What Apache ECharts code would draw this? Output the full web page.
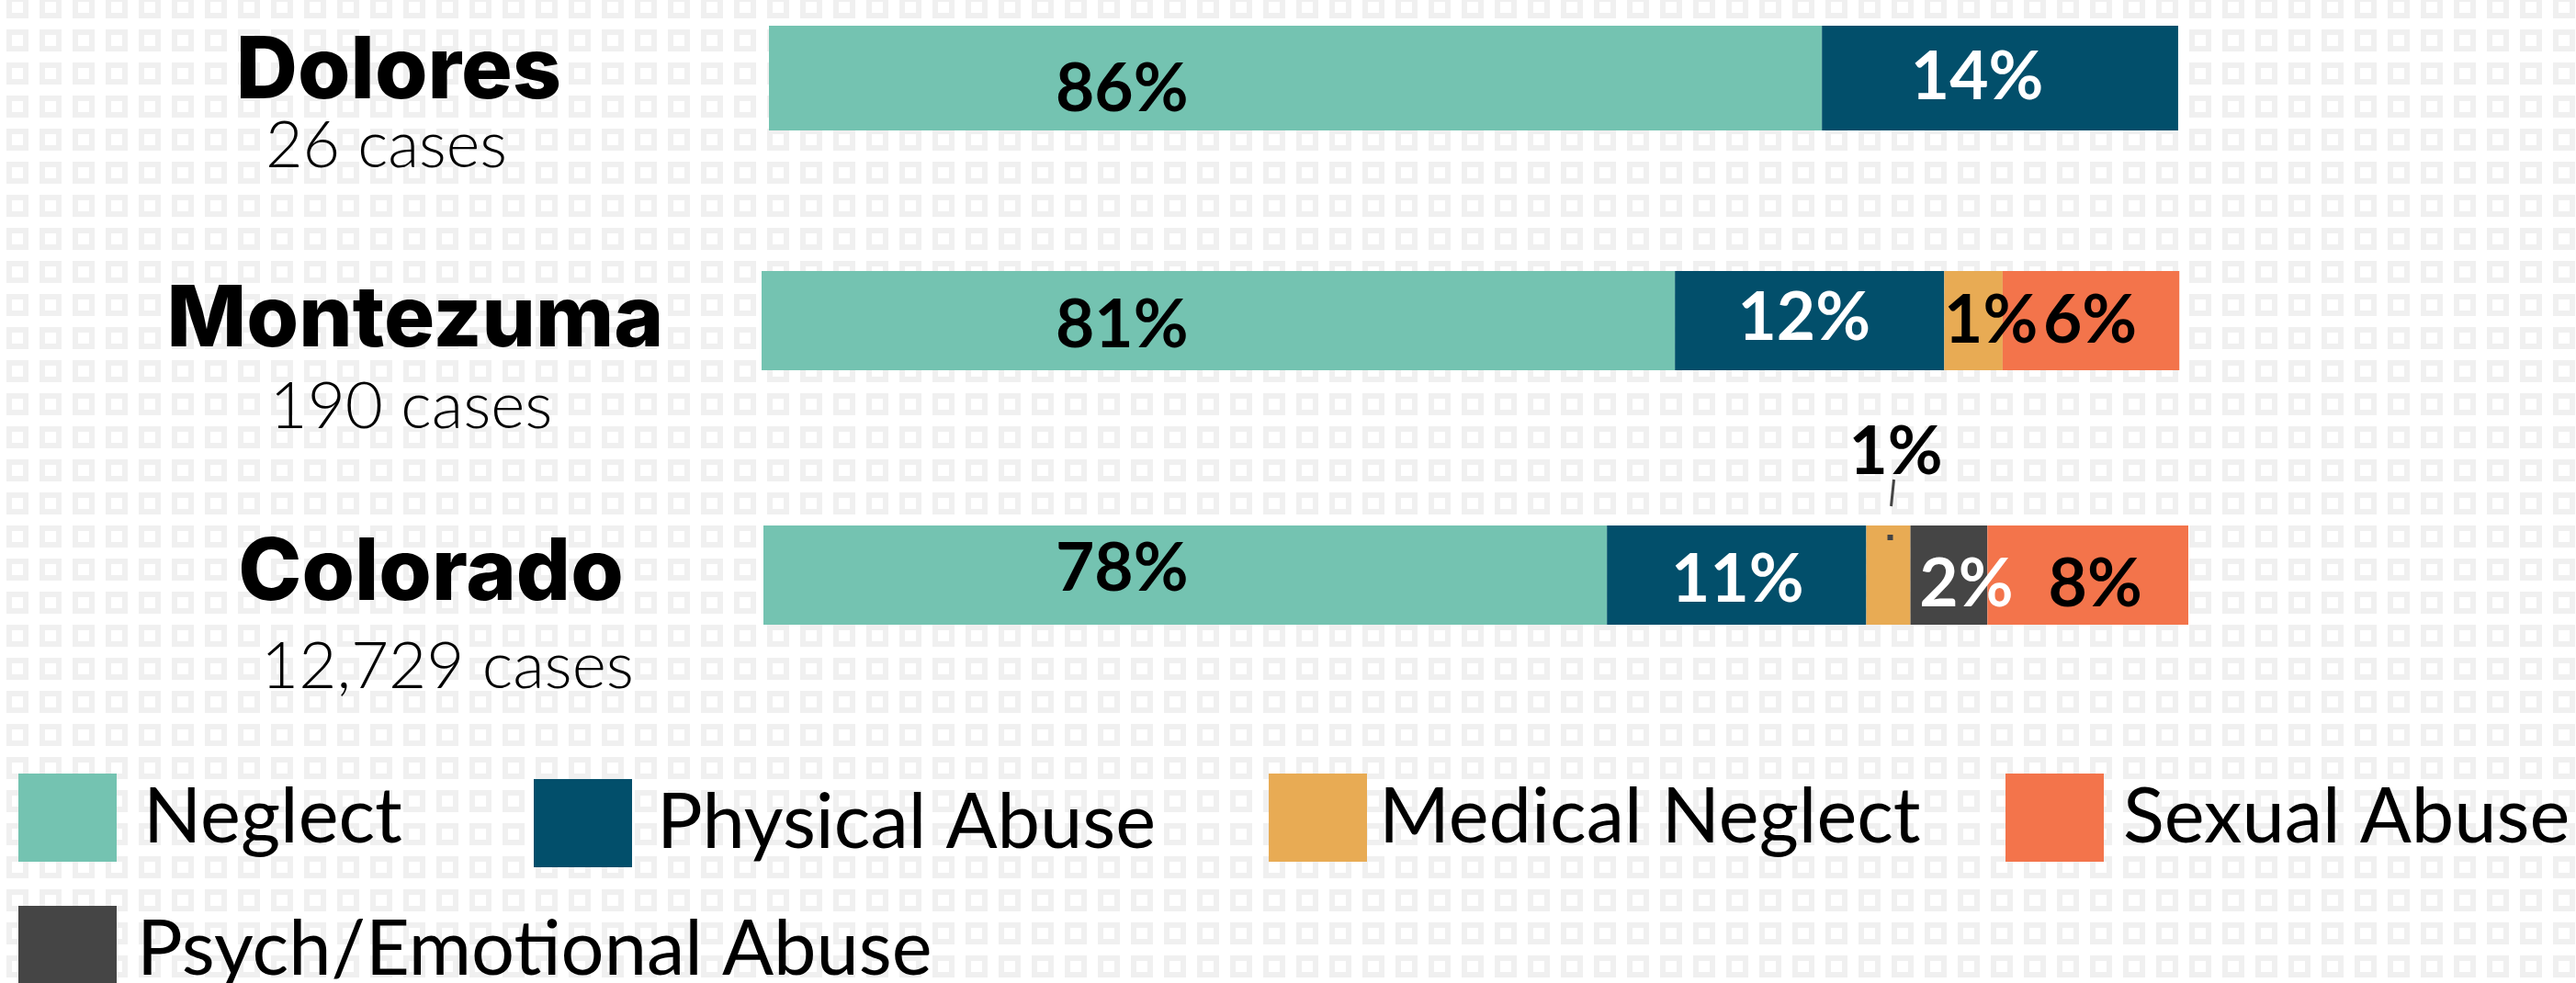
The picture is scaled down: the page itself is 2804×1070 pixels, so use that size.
<!DOCTYPE html>
<html>
<head>
<meta charset="utf-8">
<script src="https://cdn.jsdelivr.net/npm/echarts@6/dist/echarts.min.js"></script>
<style>
html,body{margin:0;padding:0;background:#fff;}
#chart{width:2804px;height:1070px;}
</style>
</head>
<body>
<div id="chart"></div>
<script>
// ---------- DATA ----------
const regions = ['Dolores', 'Montezuma', 'Colorado'];
const caseCounts = ['26 cases', '190 cases', '12,729 cases'];
const categories = ['Neglect', 'Physical Abuse', 'Medical Neglect', 'Psych/Emotional Abuse', 'Sexual Abuse'];

// segment lengths as drawn in the picture (share of the bar track)
const neglectLen  = [73.9, 64.1, 59.2];
const physicalLen = [25.0, 18.9, 18.2];
const medicalLen  = [0, 4.1, 3.1];
const psychLen    = [0, 0, 5.4];
const sexualLen   = [0, 12.4, 14.2];

// percentages printed on the segments
const neglectPct  = ['86%', '81%', '78%'];
const physicalPct = ['14%', '12%', '11%'];
const medicalPct  = ['', '1%', '1%'];
const psychPct    = ['', '', '2%'];
const sexualPct   = ['', '6%', '8%'];

// ---------- STYLE / LAYOUT ----------
const lens = [neglectLen, physicalLen, medicalLen, psychLen, sexualLen];
const pcts = [neglectPct, physicalPct, medicalPct, psychPct, sexualPct];
const colors = ['#74c3b1', '#024f6b', '#e8ab54', '#454545', '#f3744b'];
const labelColors = ['#000', '#fff', '#000', '#fff', '#000'];
const trackWidth = 1551;
const rows = [
  {left: 837, top: 28, height: 114, nameSize: 93, caseSize: 70, margin: 403, casePad: [0, 27, 0, 0], pad: 68, lh: 80},
  {left: 829, top: 295, height: 108, nameSize: 92, caseSize: 71, margin: 377, casePad: [0, 9, 0, 0], pad: 94, lh: 94},
  {left: 831, top: 572, height: 108, nameSize: 93, caseSize: 71, margin: 362, casePad: [0, 0, 0, 36], pad: 99, lh: 101}
];
const neglectDist = [312, 320, 318];
// [dx, dy] label offsets per row, per category
const labelOffsets = [
  [[0, 12], [-25, -1], [0, 0], [0, 0], [0, 0]],
  [[0, 5], [-6, -3], [19, 0], [0, 0], [-1, 0]],
  [[0, -7], [1, 5], [8, -134], [19, 10], [8, 10]]
];

// ---------- background pattern tile ----------
const tile = document.createElement('canvas');
tile.width = 36; tile.height = 36;
const g = tile.getContext('2d');
g.fillStyle = '#ffffff'; g.fillRect(0, 0, 36, 36);
function sq(x, y) {
  g.fillStyle = '#f0f0f0'; g.fillRect(x, y, 24, 24);
  g.fillStyle = '#ffffff'; g.fillRect(x + 6, y + 6, 12, 12);
}
sq(7, -4); sq(7, 32);

const grids = [], xAxes = [], yAxes = [], series = [];
rows.forEach((r, ri) => {
  grids.push({left: r.left, top: r.top, width: trackWidth, height: r.height, outerBoundsMode: 'none', containLabel: false});
  xAxes.push({type: 'value', gridIndex: ri, min: 0, max: 100, show: false});
  yAxes.push({
    type: 'category', gridIndex: ri, data: [regions[ri]],
    axisLine: {show: false}, axisTick: {show: false}, splitLine: {show: false},
    axisLabel: {
      margin: r.margin, align: 'center', verticalAlign: 'middle',
      padding: [r.pad, 0, 0, 0],
      formatter: (v) => '{n|' + v + '}\n{c|' + caseCounts[regions.indexOf(v)] + '}',
      rich: {
        n: {fontFamily: 'Inter', fontWeight: 800, fontSize: r.nameSize, color: '#000', lineHeight: r.lh},
        c: {fontFamily: 'Lato', fontWeight: 300, fontSize: r.caseSize, color: '#000', lineHeight: r.lh, padding: r.casePad}
      }
    }
  });
  categories.forEach((cat, ci) => {
    const off = labelOffsets[ri][ci];
    const label = {
      show: pcts[ci][ri] !== '',
      formatter: () => pcts[ci][ri],
      color: labelColors[ci],
      fontFamily: 'Lato', fontWeight: 'bold', fontSize: 73,
      position: ci === 0 ? 'insideLeft' : 'inside',
      offset: off
    };
    if (ci === 0) label.distance = neglectDist[ri];
    series.push({
      type: 'bar', name: cat, stack: 'row' + ri,
      xAxisIndex: ri, yAxisIndex: ri,
      barWidth: '100%',
      data: [lens[ci][ri]],
      itemStyle: {color: colors[ci]},
      label: label,
      silent: true
    });
  });
});

const legendPlaces = [
  {name: 'Neglect', left: 20, top: 842, pad: [11, 0, 0, 24]},
  {name: 'Physical Abuse', left: 581, top: 848, pad: [0, 0, 3, 22]},
  {name: 'Medical Neglect', left: 1381, top: 842, pad: [0, 0, 2, 8]},
  {name: 'Sexual Abuse', left: 2183, top: 842, pad: [0, 0, 2, 16]},
  {name: 'Psych/Emotional Abuse', left: 20, top: 986, pad: [0, 0, 0, 17]}
];
const legends = legendPlaces.map(l => ({
  data: [l.name], left: l.left, top: l.top, padding: 0,
  icon: 'rect', itemWidth: 107, itemHeight: 96,
  selectedMode: false,
  textStyle: {fontFamily: 'Lato', fontSize: 83, color: '#000', padding: l.pad}
}));

const chart = echarts.init(document.getElementById('chart'), null, {renderer: 'canvas'});
chart.setOption({
  animation: false,
  backgroundColor: '#fff',
  grid: grids, xAxis: xAxes, yAxis: yAxes, series: series,
  legend: legends,
  graphic: [{
    id: 'bg', type: 'rect', z: -10, silent: true,
    shape: {x: 0, y: 0, width: 2804, height: 1070},
    style: {fill: {image: tile, repeat: 'repeat'}}
  }]
});

// leader line for the small Colorado "Medical Neglect" label
const ci = 2;
const mid = neglectLen[ci] + physicalLen[ci] + medicalLen[ci] / 2;
const p = chart.convertToPixel({xAxisIndex: 2, yAxisIndex: 2}, [mid, 0]);
chart.setOption({
  graphic: [
    {id: 'bg', type: 'rect', z: -10, silent: true,
     shape: {x: 0, y: 0, width: 2804, height: 1070},
     style: {fill: {image: tile, repeat: 'repeat'}}},
    {id: 'leader', type: 'line', z: 10, silent: true,
     shape: {x1: p[0] + 6, y1: p[1] - 104, x2: p[0] + 3, y2: p[1] - 75},
     style: {stroke: '#444', lineWidth: 3}},
    {id: 'dot', type: 'rect', z: 10, silent: true,
     shape: {x: p[0] - 1, y: p[1] - 44, width: 6, height: 6},
     style: {fill: '#444'}}
  ]
});
</script>
</body>
</html>
